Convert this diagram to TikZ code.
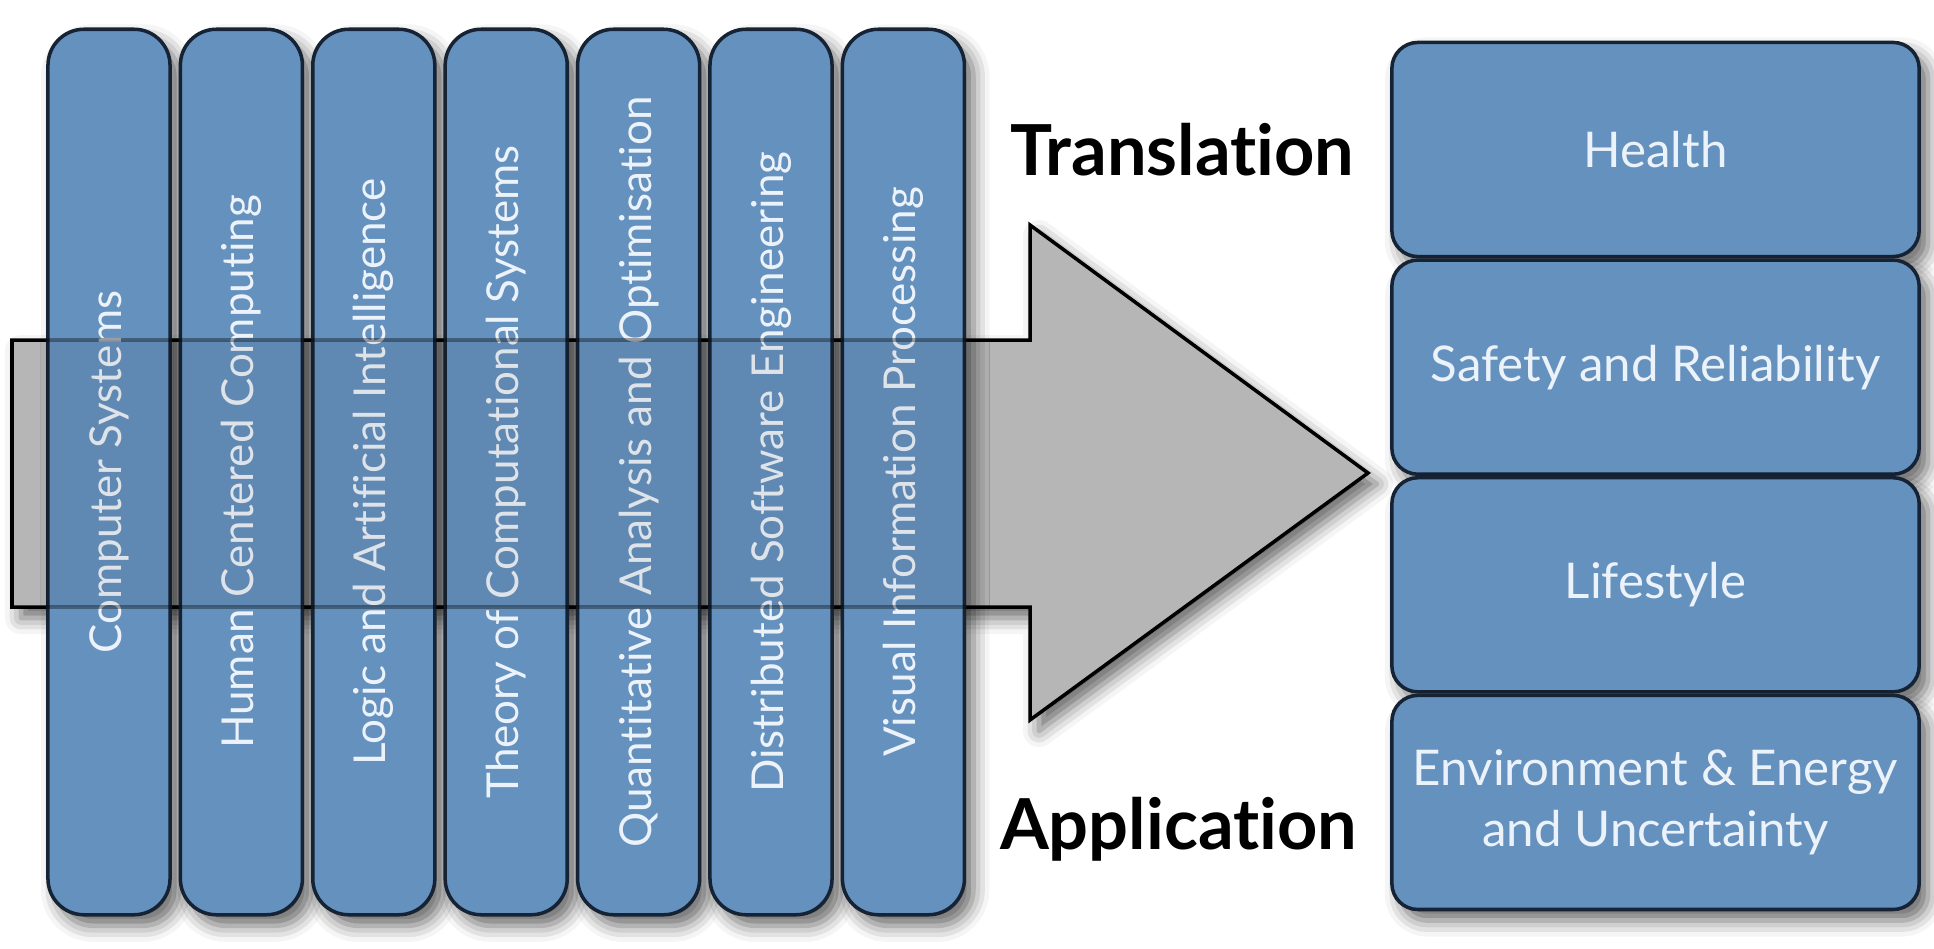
\documentclass[tikz,border=0pt]{standalone}
\usepackage{fontspec}
\setmainfont{Lato}[Ligatures=NoCommon]
\usepackage{graphicx}
\usepackage{tikz}
\usetikzlibrary{positioning}
\usetikzlibrary{shadows.blur}
\definecolor{tileblue}{RGB}{101,145,190}
\definecolor{tileline}{RGB}{22,35,52}
\definecolor{tiletext}{RGB}{236,242,249}
\definecolor{shaftgray}{RGB}{182,182,182}
\newcommand{\up}[1]{\rotatebox{90}{#1}}
\newcommand{\widthcol}{1.22cm}
\newcommand{\heightcol}{8.85cm}
\newcommand{\widthapp}{5.27cm}
\newcommand{\heightapp}{2.14cm}
\tikzset{
    soft/.style={blur shadow={shadow xshift=0.9mm, shadow yshift=-1.1mm, shadow blur radius=1.6mm, shadow opacity=60}},
    tile/.style={soft, draw=tileline, line width=1pt, fill=tileblue, text=tiletext, inner sep=0pt},
    area/.style={tile, rounded corners=0.36cm, minimum width=\widthcol, minimum height=\heightcol,
        font=\fontsize{12.5}{15}\selectfont},
    app/.style={tile, rounded corners=0.26cm, minimum width=\widthapp, minimum height=\heightapp,
        align=center, font=\fontsize{14}{17.5}\selectfont},
    arrowbody/.style={soft, draw=black, line width=1pt, fill=shaftgray, line join=miter},
    stage/.style={font=\fontsize{20}{24}\selectfont\bfseries, inner sep=0pt},
}

\begin{document}
\begin{tikzpicture}[x=0.01cm, y=-0.01cm, node distance=0pt]
    \useasboundingbox (0,0) rectangle (1934,948);

    % application areas
    \node[app] (app1) at (1655.5,149.5) {Health};
    \node[app, below=of app1] (app2) {Safety and Reliability};
    \node[app, below=of app2] (app3) {Lifestyle};
    \node[app, below=of app3] (app4) {Environment \& Energy\\and Uncertainty};

    \node[stage, left=0.35cm of app1] (translation) {Translation};
    \node[stage, left=0.32cm of app4, yshift=-0.27cm] (application) {Application};

    % big arrow behind the research areas
    \draw[arrowbody] (12,340) -- (1030,340) -- (1030,225) -- (1368,473)
        -- (1030,720) -- (1030,607) -- (12,607) -- cycle;

    % research areas
    \foreach \name [count=\i] in {Computer Systems, Human Centered Computing,
            Logic and Artificial Intelligence, Theory of Computational Systems,
            Quantitative Analysis and Optimisation, Distributed Software Engineering,
            Visual Information Processing}
        \node[area] (col\i) at ({109+132.4*(\i-1)},472) {\up{\name}};

    % shaft seen through the columns
    \fill[black, opacity=.06] (col1.west |- 0,340) rectangle (col7.east |- 0,607);
    \draw[black, opacity=.35, line width=1pt] (col1.west |- 0,340) -- (col7.east |- 0,340)
        (col1.west |- 0,607) -- (col7.east |- 0,607);
\end{tikzpicture}
\end{document}
